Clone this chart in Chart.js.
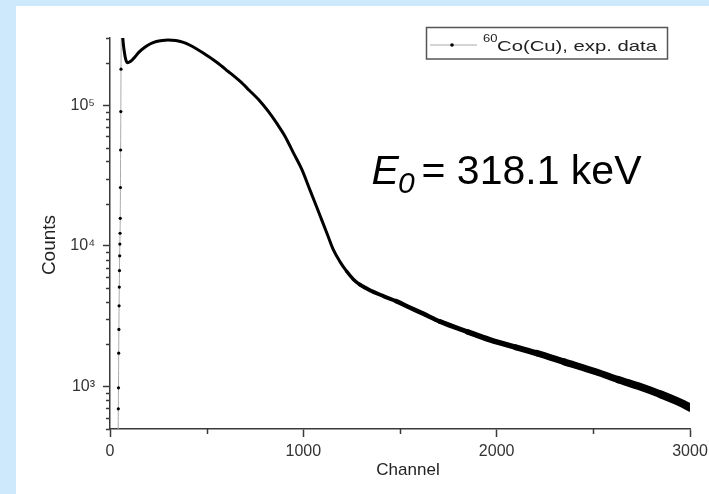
<!DOCTYPE html>
<html>
<head>
<meta charset="utf-8">
<script src="https://cdn.jsdelivr.net/npm/chart.js@4/dist/chart.umd.min.js"></script>
<style>
  html, body { margin: 0; padding: 0; background: #cde9fb; }
  #box { position: absolute; left: 16px; top: 6px; width: 693px; height: 488px; background: #fff; }
</style>
</head>
<body>
<div id="box"><canvas id="spectrum" width="693" height="488"></canvas></div>
<script>
// 60Co spectrum measured through Cu, counts per channel
const channels = [42, 43, 44, 45, 46, 47, 48, 49, 50, 51, 52, 53, 54, 55, 56, 57, 60,
  64, 68, 75, 82, 91, 105, 121, 150, 180, 207, 240, 270, 300, 340, 380, 414, 480, 552,
  610, 672, 720, 776, 820, 862, 905, 948, 991, 1034, 1065, 1095, 1125, 1155, 1190, 1224,
  1258, 1293, 1350, 1414, 1480, 1550, 1620, 1707, 1850, 1966, 2100, 2207, 2350, 2517,
  2630, 2741, 2850, 2950, 3000];
const counts = [400, 695, 980, 1730, 2550, 3750, 5100, 6680, 8500, 10300, 12300, 15700,
  26000, 48000, 90000, 180000, 450000,
  340000, 280000, 235000, 210000, 200000, 204000, 214000, 238000, 258000, 272000, 283000,
  288000, 290000, 288000, 279000, 266500, 235600, 201800,
  174200, 147900, 127600, 106700, 90000, 74500, 60200, 46000, 35200, 25000, 19500, 15300,
  12000, 9400, 7700, 6600,
  5800, 5300, 4800, 4400, 4050, 3650, 3300, 2900, 2450, 2150, 1900, 1730, 1500, 1270,
  1120, 1000, 880, 770, 710];

const xMajorTicks = [0, 1000, 2000, 3000];
const xMinorTicks = [500, 1500, 2500];
const yMajorTicks = [1000, 10000, 100000];
const yMajorLabels = ['10³', '10⁴', '10⁵'];
const yMinorTicks = [500, 600, 700, 800, 900, 2000, 3000, 4000, 5000, 6000, 7000, 8000, 9000,
  20000, 30000, 40000, 50000, 60000, 70000, 80000, 90000, 200000, 300000];

const seriesLabel = 'Co(Cu), exp. data';
const seriesIsotope = '60';
const axisX = 'Channel';
const axisY = 'Counts';

const FONT = '"Liberation Sans", Arial, sans-serif';
const AXIS = '#3a3a3a';

const points = channels.map((c, i) => ({ x: c, y: counts[i] }));

// minor ticks, axis titles, legend box and the E0 note
const extras = {
  id: 'extras',
  afterDraw(chart) {
    const ctx = chart.ctx;
    const xs = chart.scales.x, ys = chart.scales.y;
    const area = chart.chartArea;
    ctx.save();
    ctx.strokeStyle = AXIS;
    ctx.lineWidth = 1.5;
    ctx.beginPath();
    yMinorTicks.forEach(v => {
      const y = Math.round(ys.getPixelForValue(v)) + 0.5;
      ctx.moveTo(area.left, y);
      ctx.lineTo(area.left - 4, y);
    });
    xMinorTicks.forEach(v => {
      const x = Math.round(xs.getPixelForValue(v)) + 0.5;
      ctx.moveTo(x, area.bottom);
      ctx.lineTo(x, area.bottom + 5);
    });
    ctx.stroke();

    // axis titles
    ctx.fillStyle = '#222';
    ctx.font = '17px ' + FONT;
    ctx.textAlign = 'center';
    ctx.textBaseline = 'alphabetic';
    ctx.fillText(axisX, 392, 469);
    ctx.save();
    ctx.translate(39, 239);
    ctx.rotate(-Math.PI / 2);
    ctx.font = '19px ' + FONT;
    ctx.fillText(axisY, 0, 0);
    ctx.restore();

    // legend
    ctx.lineWidth = 1.5;
    ctx.strokeStyle = '#555';
    ctx.strokeRect(410.5, 21.5, 241, 31.5);
    ctx.strokeStyle = '#aaa';
    ctx.lineWidth = 1;
    ctx.beginPath();
    ctx.moveTo(414, 39);
    ctx.lineTo(461, 39);
    ctx.stroke();
    ctx.fillStyle = '#000';
    ctx.beginPath();
    ctx.arc(436, 39, 1.8, 0, Math.PI * 2);
    ctx.fill();
    ctx.fillStyle = '#222';
    ctx.textAlign = 'left';
    ctx.save();
    ctx.translate(467, 36);
    ctx.scale(1.3, 1);
    ctx.font = '10px ' + FONT;
    ctx.fillText(seriesIsotope, 0, 0);
    ctx.restore();
    ctx.save();
    ctx.font = '15px ' + FONT;
    const w = ctx.measureText(seriesLabel).width;
    ctx.translate(481, 45);
    ctx.scale(160 / w, 1);
    ctx.fillText(seriesLabel, 0, 0);
    ctx.restore();

    // E0 note
    ctx.fillStyle = '#000';
    ctx.font = 'italic 41px ' + FONT;
    ctx.fillText('E', 355.5, 177.5);
    ctx.font = 'italic 30px ' + FONT;
    ctx.fillText('0', 382, 187);
    ctx.font = '41px ' + FONT;
    ctx.fillText('= 318.1 keV', 405.5, 177.5);
    ctx.restore();
  }
};

function tailWidth(c) {
  const ch = c.p1.parsed.x;
  if (ch <= 60) return 1;
  if (ch < 1250) return 3;
  return Math.round((3.5 + (ch - 1250) / 1750 * 4.5) * 2) / 2;
}

new Chart(document.getElementById('spectrum'), {
  type: 'line',
  data: {
    datasets: [{
      label: seriesLabel,
      data: points,
      borderColor: '#000',
      borderWidth: 3,
      borderCapStyle: 'round',
      borderJoinStyle: 'round',
      cubicInterpolationMode: 'monotone',
      pointRadius: c => (c.raw && c.raw.x < 58 ? 1.6 : 0),
      pointBackgroundColor: '#000',
      pointBorderWidth: 0,
      segment: {
        borderColor: c => (c.p1.parsed.x <= 60 ? '#aaa' : '#000'),
        borderWidth: tailWidth
      }
    }]
  },
  options: {
    responsive: false,
    animation: false,
    layout: { padding: { left: 0, top: 32, right: 19, bottom: 0 } },
    plugins: { legend: { display: false }, tooltip: { enabled: false } },
    scales: {
      x: {
        type: 'linear',
        min: 0,
        max: 3000,
        afterBuildTicks: s => { s.ticks = xMajorTicks.map(v => ({ value: v })); },
        afterFit: s => { s.height = 65; s.paddingLeft = 0; s.paddingRight = 0; },
        ticks: {
          maxRotation: 0,
          padding: 5,
          color: '#333',
          font: { family: FONT, size: 16 },
          callback: v => String(v)
        },
        grid: { drawOnChartArea: false, tickLength: 8, tickColor: AXIS, tickWidth: 1.5 },
        border: { color: AXIS, width: 1.5 }
      },
      y: {
        type: 'logarithmic',
        min: 500,
        max: 300000,
        afterBuildTicks: s => { s.ticks = yMajorTicks.map(v => ({ value: v })); },
        afterFit: s => { s.width = 94; s.paddingTop = 0; s.paddingBottom = 0; },
        ticks: {
          padding: 8,
          color: '#333',
          font: { family: FONT, size: 16 },
          callback: v => yMajorLabels[yMajorTicks.indexOf(v)]
        },
        grid: { drawOnChartArea: false, tickLength: 7, tickColor: AXIS, tickWidth: 1.5 },
        border: { color: AXIS, width: 1.5 }
      }
    }
  },
  plugins: [extras]
});
</script>
</body>
</html>
